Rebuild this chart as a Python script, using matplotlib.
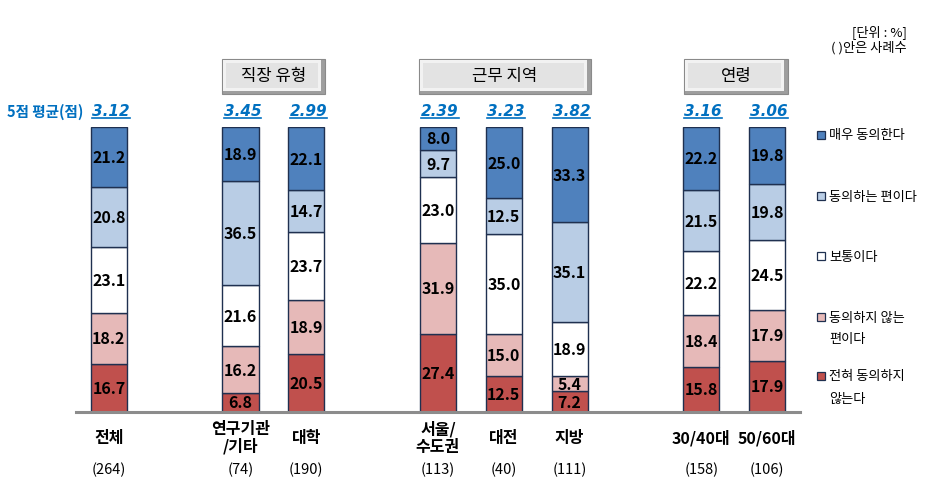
import matplotlib
matplotlib.use("Agg")
import matplotlib.pyplot as plt
from matplotlib.patches import Rectangle
from matplotlib.lines import Line2D

plt.rcParams['font.family'] = ['Noto Sans CJK KR', 'DejaVu Sans']

categories = ['전체', '연구기관\n/기타', '대학', '서울/\n수도권', '대전', '지방', '30/40대', '50/60대']
counts = ['(264)', '(74)', '(190)', '(113)', '(40)', '(111)', '(158)', '(106)']
averages = ['3.12', '3.45', '2.99', '2.39', '3.23', '3.82', '3.16', '3.06']
positions = [0, 2, 3, 5, 6, 7, 9, 10]

series_names = ['전혀 동의하지\n않는다', '동의하지 않는\n편이다', '보통이다', '동의하는 편이다', '매우 동의한다']
strongly_disagree = [16.7, 6.8, 20.5, 27.4, 12.5, 7.2, 15.8, 17.9]
disagree = [18.2, 16.2, 18.9, 31.9, 15.0, 5.4, 18.4, 17.9]
neutral = [23.1, 21.6, 23.7, 23.0, 35.0, 18.9, 22.2, 24.5]
agree = [20.8, 36.5, 14.7, 9.7, 12.5, 35.1, 21.5, 19.8]
strongly_agree = [21.2, 18.9, 22.1, 8.0, 25.0, 33.3, 22.2, 19.8]
series = [strongly_disagree, disagree, neutral, agree, strongly_agree]
colors = ['#C0504D', '#E6B9B8', '#FFFFFF', '#B9CDE5', '#4F81BD']

groups = ['직장 유형', '근무 지역', '연령']

W, H = 935, 485
fig = plt.figure(figsize=(W / 100, H / 100), dpi=100)

def fx(px):
    return px / W

def fy(py):
    return 1 - py / H

ax = fig.add_axes([fx(76), fy(413), 724 / W, 285 / H])
ax.set_xlim(-0.5, 10.5)
ax.set_ylim(0, 100)
ax.axis('off')

bw = 0.55
bottoms = [0.0] * len(positions)
for vals, col in zip(series, colors):
    ax.bar(positions, vals, bw, bottom=bottoms, color=col, edgecolor='#1F3050',
           linewidth=1.0, zorder=2)
    for p, v, b in zip(positions, vals, bottoms):
        ax.text(p, b + v / 2, f'{v:.1f}', ha='center', va='center',
                fontsize=11.5, fontweight='bold', color='black', zorder=3)
    bottoms = [b + v for b, v in zip(bottoms, vals)]

ax.plot([-0.5, 10.5], [0, 0], color='#8C8C8C', lw=2.2, clip_on=False, zorder=4)

trans = matplotlib.transforms.blended_transform_factory(ax.transData, fig.transFigure)

# category labels and counts
for p, c, n in zip(positions, categories, counts):
    ax.text(p, fy(438), c, transform=trans, ha='center', va='center', fontsize=11.5,
            fontweight='bold', linespacing=1.1)
    ax.text(p, fy(470), n, transform=trans, ha='center', va='center', fontsize=10.5)

# averages (bold italic, underlined)
avg_texts = []
for p, a in zip(positions, averages):
    t = ax.text(p + 0.03, fy(112), a, transform=trans, ha='center', va='center',
                fontsize=11, fontweight='bold', style='italic', color='#0070C0',
                family=['DejaVu Sans'])
    avg_texts.append(t)
fig.text(fx(7), fy(112), '5점 평균(점)', ha='left', va='center', fontsize=10.5,
         fontweight='bold', color='#0070C0')

# group header boxes
box_px = [(222, 325), (419, 591), (684, 788)]
for g, (x0, x1) in zip(groups, box_px):
    y0, y1 = 60, 95
    fig.patches.append(Rectangle((fx(x0), fy(y1)), (x1 - x0) / W, (y1 - y0) / H,
                                 transform=fig.transFigure, facecolor='#9E9E9E',
                                 edgecolor='#8A8A8A', lw=0.8))
    fig.patches.append(Rectangle((fx(x0 + 1), fy(y1 - 3)), (x1 - x0 - 5) / W, (y1 - y0 - 4) / H,
                                 transform=fig.transFigure, facecolor='#F2F2F2',
                                 edgecolor='none'))
    fig.patches.append(Rectangle((fx(x0 + 4), fy(y1 - 6)), (x1 - x0 - 11) / W, (y1 - y0 - 10) / H,
                                 transform=fig.transFigure, facecolor='#E3E3E3',
                                 edgecolor='none'))
    fig.text(fx((x0 + x1) / 2), fy((y0 + y1) / 2 - 1), g, ha='center', va='center',
             fontsize=12, color='black')

# unit notes
fig.text(fx(907), fy(32), '[단위 : %]', ha='right', va='center', fontsize=9.5)
fig.text(fx(907), fy(48), '( )안은 사례수', ha='right', va='center', fontsize=9.5)

# legend
leg_y = [136, 197, 257, 318, 377]
leg_order = list(range(len(series_names)))[::-1]
for yy, idx in zip(leg_y, leg_order):
    fig.patches.append(Rectangle((fx(817), fy(yy + 4)), 8 / W, 8 / H,
                                 transform=fig.transFigure, facecolor=colors[idx],
                                 edgecolor='#1F3050', lw=0.9))
    lines = series_names[idx].split('\n')
    for k, ln in enumerate(lines):
        fig.text(fx(829), fy(yy + 22 * k), ln, ha='left', va='center', fontsize=9.5)

# underline averages
fig.canvas.draw()
renderer = fig.canvas.get_renderer()
inv = fig.transFigure.inverted()
for t in avg_texts:
    bb = t.get_window_extent(renderer)
    (x0, y0), (x1, y1) = inv.transform([[bb.x0, bb.y0], [bb.x1, bb.y1]])
    fig.lines.append(Line2D([x0, x1], [y0 + 0.002, y0 + 0.002], transform=fig.transFigure,
                            color='#0070C0', lw=1.2))

fig.savefig('out.png', dpi=100, facecolor='white')
